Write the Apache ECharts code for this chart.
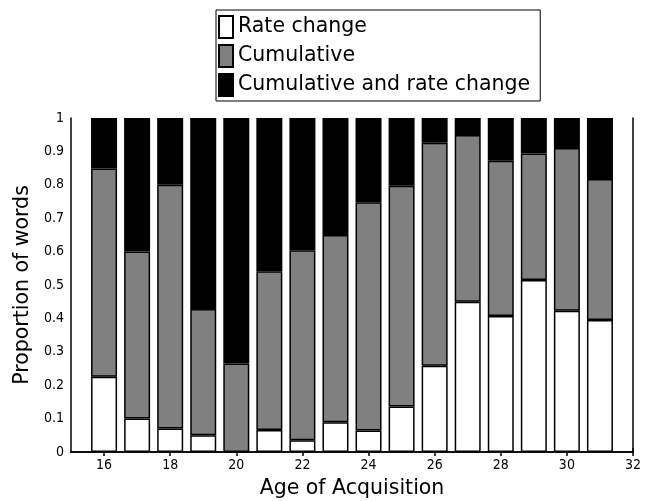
<!DOCTYPE html>
<html>
<head>
<meta charset="utf-8">
<script src="https://cdn.jsdelivr.net/npm/echarts@6/dist/echarts.min.js"></script>
<style>
  html, body { margin: 0; padding: 0; background: #fff; }
  #chart { width: 648px; height: 501px; }
</style>
</head>
<body>
<div id="chart"></div>
<script>
// full span of the age axis; bars sit at 16..31
const axisAges = [15, 16, 17, 18, 19, 20, 21, 22, 23, 24, 25, 26, 27, 28, 29, 30, 31, 32];
const ages = [16, 17, 18, 19, 20, 21, 22, 23, 24, 25, 26, 27, 28, 29, 30, 31];
// proportions, bottom to top
const rateChange = [0.225, 0.10, 0.07, 0.05, 0, 0.066, 0.035, 0.089, 0.064, 0.136, 0.258, 0.45, 0.407, 0.515, 0.423, 0.395];
const cumulative = [0.624, 0.50, 0.73, 0.378, 0.265, 0.475, 0.569, 0.561, 0.684, 0.661, 0.668, 0.499, 0.465, 0.379, 0.487, 0.422];
const cumulativeAndRate = [0.151, 0.40, 0.20, 0.572, 0.735, 0.459, 0.396, 0.35, 0.252, 0.203, 0.074, 0.051, 0.128, 0.106, 0.09, 0.183];

const tickFont = "'Liberation Sans Narrow', 'DejaVu Sans Condensed', sans-serif";
const textFont = "'DejaVu Sans', sans-serif";

const chart = echarts.init(document.getElementById("chart"));

function onAxis(values) {
  return axisAges.map((a) => {
    const i = ages.indexOf(a);
    return i < 0 ? null : values[i];
  });
}

function barSeries(name, values, color) {
  return {
    name: name,
    type: "bar",
    stack: "all",
    barWidth: 26,
    data: onAxis(values),
    itemStyle: { color: color, borderColor: "#000", borderWidth: 1.5 },
    emphasis: { disabled: true }
  };
}

const lineStyle = { color: "#000", width: 1.5 };
const evenOnly = (idx, val) => Number(val) % 2 === 0;

chart.setOption({
  animation: false,
  legend: {
    orient: "vertical",
    left: 216,
    top: 10,
    padding: [5, 10, 4, 2],
    itemGap: 5,
    itemWidth: 14,
    itemHeight: 22,
    icon: "rect",
    borderColor: "#000",
    borderWidth: 1,
    textStyle: { fontFamily: textFont, fontSize: 20.5, color: "#000" },
    data: ["Rate change", "Cumulative", "Cumulative and rate change"]
  },
  grid: { left: 71, right: 15, top: 118, bottom: 49, containLabel: false, outerBoundsMode: "none" },
  xAxis: [{
    type: "category",
    data: axisAges.map(String),
    boundaryGap: false,
    name: "Age of Acquisition",
    nameLocation: "middle",
    nameGap: 26,
    nameTextStyle: { fontFamily: textFont, fontSize: 20.5, color: "#000" },
    axisLine: { lineStyle: lineStyle },
    axisTick: { inside: true, length: 4, interval: evenOnly, lineStyle: lineStyle },
    axisLabel: { interval: evenOnly, margin: 6, fontFamily: tickFont, fontSize: 14, color: "#000" },
    splitLine: { show: false }
  }, {
    type: "category",
    data: axisAges.map(String),
    boundaryGap: false,
    position: "top",
    axisLine: { show: true, lineStyle: lineStyle },
    axisTick: { inside: true, length: 4, interval: evenOnly, lineStyle: lineStyle },
    axisLabel: { show: false },
    splitLine: { show: false }
  }],
  yAxis: [{
    type: "value",
    min: 0,
    max: 1,
    interval: 0.1,
    name: "Proportion of words",
    nameLocation: "middle",
    nameGap: 36,
    nameTextStyle: { fontFamily: textFont, fontSize: 20.5, color: "#000" },
    axisLine: { show: true, lineStyle: lineStyle },
    axisTick: { inside: true, length: 4, lineStyle: lineStyle },
    axisLabel: { margin: 7, fontFamily: tickFont, fontSize: 14, color: "#000" },
    splitLine: { show: false }
  }, {
    type: "value",
    position: "right",
    min: 0,
    max: 1,
    interval: 0.1,
    axisLine: { show: true, lineStyle: lineStyle },
    axisTick: { inside: true, length: 5, lineStyle: lineStyle },
    axisLabel: { show: false },
    splitLine: { show: false }
  }],
  series: [
    barSeries("Rate change", rateChange, "#ffffff"),
    barSeries("Cumulative", cumulative, "#808080"),
    barSeries("Cumulative and rate change", cumulativeAndRate, "#000000")
  ]
});
</script>
</body>
</html>
